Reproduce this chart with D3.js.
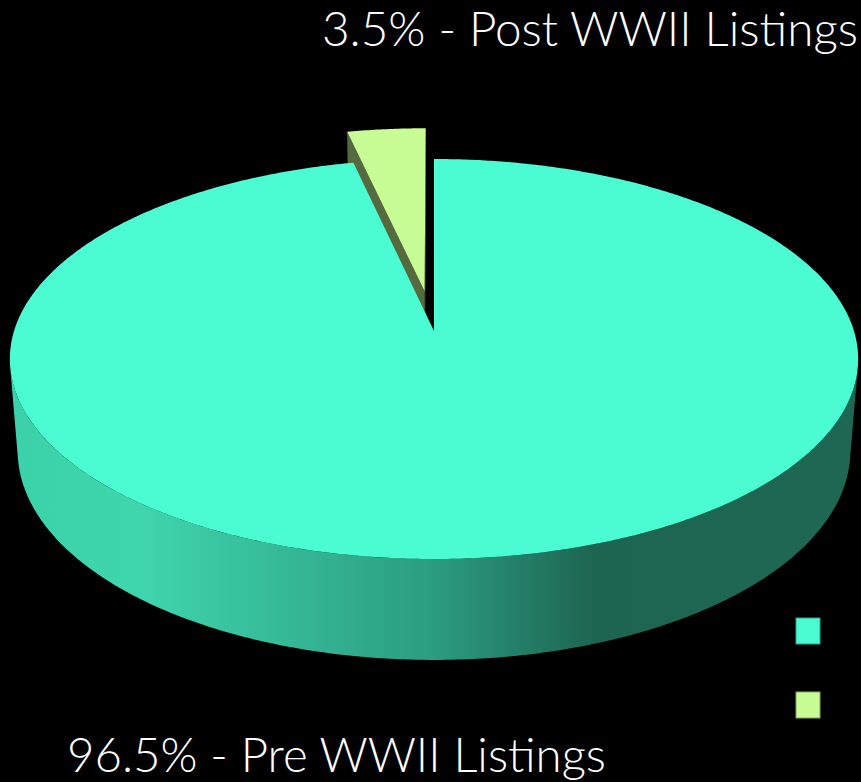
<!DOCTYPE html>
<html>
<head>
<meta charset="utf-8">
<script src="https://cdn.jsdelivr.net/npm/d3@7"></script>
<style>
  html, body { margin: 0; padding: 0; background: #000; }
  svg { display: block; }
  .label { font-family: "Lato Light", "Lato", "Open Sans", sans-serif; font-weight: 300; fill: #fff; }
</style>
</head>
<body>
<div id="chart"></div>
<script>
// data
var categories = ["Pre WWII Listings", "Post WWII Listings"]
var values = [96.5, 3.5]

// style
var topColors = ["#4bfcd3", "#c8fc94"]
var explodeBy = [0, 0.21]

var w = 861
var h = 782

// fake 3d camera, numbers tuned to the picture
var cx = 434, cy = 331
var F = 2653, D = 6.317
var phi = Math.asin(0.4669)
var sinP = Math.sin(phi), cosP = Math.cos(phi)
var depth = 0.25

function project(X, Y, Z) {
    var d = D + Y * cosP - Z * sinP
    var up = Y * sinP + Z * cosP
    return [cx + F * X / d, cy - F * up / d]
}
var cam = [0, -D * cosP, D * sinP]

var svg = d3.select("#chart").append("svg").attr("width", w).attr("height", h)
svg.append("rect").attr("width", w).attr("height", h).attr("fill", "#000")

var defs = svg.append("defs")
var grad = defs.append("linearGradient")
    .attr("id", "sideGrad")
    .attr("gradientUnits", "userSpaceOnUse")
    .attr("x1", 10).attr("x2", 858).attr("y1", 0).attr("y2", 0)
var stops = [[0, "#3bd2aa"], [0.15, "#3fd6ae"], [0.5, "#2b9c80"], [0.69, "#1d6551"], [1, "#1e6853"]]
stops.forEach(function(s) {
    grad.append("stop").attr("offset", s[0]).attr("stop-color", s[1])
})

var pie = d3.pie().sort(null).value(function(d) { return d })
var arcs = pie(values).map(function(a, i) {
    var mid = (a.startAngle + a.endAngle) / 2
    a.i = i
    a.ox = explodeBy[i] * Math.sin(mid)
    a.oy = explodeBy[i] * Math.cos(mid)
    return a
})

// far slices first
arcs.sort(function(a, b) { return b.oy - a.oy })

var line = d3.line()

function rim(a, a0, a1, z) {
    var pts = []
    var n = Math.max(2, Math.ceil((a1 - a0) / (Math.PI / 360)))
    for (var k = 0; k <= n; k++) {
        var t = a0 + (a1 - a0) * k / n
        pts.push(project(a.ox + Math.sin(t), a.oy + Math.cos(t), z))
    }
    return pts
}

function visible(n, p) {
    return n[0] * (cam[0] - p[0]) + n[1] * (cam[1] - p[1]) + n[2] * (cam[2] - p[2]) > 0
}

arcs.forEach(function(a) {
    var g = svg.append("g").attr("class", "slice")
    var base = d3.color(topColors[a.i])
    var wallColor = base.darker(2.4)

    // radial walls
    ;[[a.startAngle, -1], [a.endAngle, 1]].forEach(function(wd) {
        var t = wd[0], s = wd[1]
        var n = [s * Math.cos(t), -s * Math.sin(t), 0]
        var p = [a.ox + 0.5 * Math.sin(t), a.oy + 0.5 * Math.cos(t), 0]
        if (!visible(n, p)) return
        var quad = [
            project(a.ox, a.oy, 0),
            project(a.ox + Math.sin(t), a.oy + Math.cos(t), 0),
            project(a.ox + Math.sin(t), a.oy + Math.cos(t), -depth),
            project(a.ox, a.oy, -depth)
        ]
        g.append("path").attr("d", line(quad) + "Z").attr("fill", wallColor)
    })

    // outer wall, front facing part only
    var lim = Math.acos(-1 / (D * cosP))
    var v0 = Math.max(a.startAngle, lim), v1 = Math.min(a.endAngle, 2 * Math.PI - lim)
    if (v1 > v0) {
        var topEdge = rim(a, v0, v1, 0)
        var botEdge = rim(a, v0, v1, -depth).reverse()
        g.append("path")
            .attr("d", line(topEdge.concat(botEdge)) + "Z")
            .attr("fill", a.i === 0 ? "url(#sideGrad)" : wallColor)
    }

    // top face
    var face = [project(a.ox, a.oy, 0)].concat(rim(a, a.startAngle, a.endAngle, 0))
    g.append("path").attr("d", line(face) + "Z").attr("fill", topColors[a.i])
})

// labels
var fmt = function(v) { return d3.format(".1f")(v) + "%" }
svg.append("text").attr("class", "label")
    .attr("x", 858).attr("y", 46)
    .attr("text-anchor", "end")
    .attr("font-size", 48)
    .attr("textLength", 536).attr("lengthAdjust", "spacingAndGlyphs")
    .text(fmt(values[1]) + " - " + categories[1])
svg.append("text").attr("class", "label")
    .attr("x", 67).attr("y", 772)
    .attr("font-size", 48)
    .attr("textLength", 539).attr("lengthAdjust", "spacingAndGlyphs")
    .text(fmt(values[0]) + " - " + categories[0])

// legend (just swatches, no text)
var ly = d3.scalePoint().domain(categories).range([618, 692])
svg.selectAll(".legend")
    .data(categories)
    .enter()
    .append("rect")
    .attr("class", "legend")
    .attr("x", 796)
    .attr("y", function(d) { return ly(d) })
    .attr("width", 24)
    .attr("height", 26)
    .attr("fill", function(d, i) { return topColors[i] })
    .attr("stroke", function(d, i) { return d3.color(topColors[i]).darker(1.2) })
    .attr("stroke-width", 1)
</script>
</body>
</html>
